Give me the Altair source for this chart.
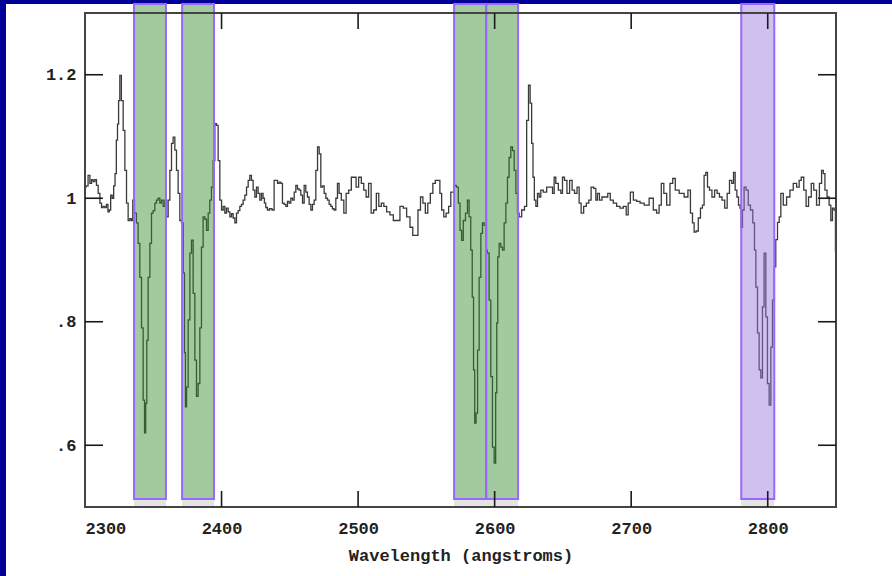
import altair as alt
import pandas as pd

# Normalised flux spectrum (wavelength in angstroms)
wavelength = [
    2300.0, 2301.5, 2303.0, 2304.2, 2305.4, 2306.6, 2307.8, 2309.0, 2310.3, 2311.5,
    2312.7, 2313.9, 2315.1, 2316.3, 2317.3, 2318.3, 2319.3, 2320.5, 2321.5, 2322.5,
    2323.4, 2324.2, 2325.0, 2326.0, 2327.3, 2328.6, 2329.8, 2331.0, 2332.2, 2333.4,
    2334.5, 2335.5, 2337.0, 2338.3, 2339.5, 2340.8, 2342.0, 2343.2, 2344.0, 2344.9,
    2345.6, 2346.9, 2348.1, 2349.3, 2350.5, 2351.8, 2352.9, 2354.2, 2355.4, 2356.6,
    2357.9, 2359.1, 2360.3, 2361.5, 2362.8, 2363.9, 2365.2, 2366.4, 2367.6, 2368.8,
    2370.1, 2371.3, 2372.5, 2373.2, 2373.9, 2374.9, 2376.2, 2377.4, 2378.6, 2379.8,
    2381.1, 2382.2, 2383.5, 2384.7, 2385.9, 2387.1, 2388.4, 2389.6, 2390.8, 2392.0,
    2393.2, 2394.5, 2395.7, 2396.9, 2398.1, 2399.4, 2400.6, 2401.8, 2403.0, 2404.2,
    2405.5, 2406.7, 2407.9, 2409.1, 2410.4, 2411.5, 2412.8, 2414.0, 2415.2, 2416.4,
    2417.7, 2418.9, 2420.1, 2421.3, 2422.5, 2423.8, 2425.0, 2426.2, 2427.4, 2428.7,
    2429.8, 2431.0, 2431.8, 2433.0, 2434.2, 2436.0, 2437.9, 2439.1, 2440.4, 2441.6,
    2442.8, 2444.0, 2445.2, 2446.5, 2447.7, 2448.9, 2450.1, 2451.4, 2452.6, 2453.8,
    2455.0, 2456.2, 2457.4, 2458.7, 2459.9, 2461.1, 2462.3, 2463.5, 2464.8, 2466.0,
    2467.2, 2468.4, 2469.7, 2470.9, 2472.1, 2473.3, 2474.5, 2475.8, 2477.0, 2478.2,
    2479.4, 2480.6, 2481.8, 2483.1, 2484.3, 2485.5, 2486.7, 2488.7, 2490.4, 2492.1,
    2494.1, 2496.0, 2497.7, 2499.4, 2501.4, 2503.3, 2505.0, 2506.7, 2508.7, 2510.4,
    2512.4, 2514.3, 2516.0, 2518.0, 2519.7, 2522.1, 2524.6, 2527.0, 2529.4, 2531.9,
    2534.3, 2536.8, 2539.2, 2540.9, 2542.9, 2544.8, 2546.6, 2548.3, 2550.2, 2551.9,
    2553.9, 2555.6, 2557.5, 2559.3, 2560.5, 2561.9, 2563.6, 2565.3, 2567.3, 2568.5,
    2569.7, 2571.0, 2572.9, 2573.9, 2575.4, 2576.3, 2577.8, 2579.5, 2580.7, 2581.9,
    2583.1, 2584.1, 2585.0, 2585.8, 2587.0, 2588.0, 2589.3, 2590.5, 2591.7, 2592.9,
    2594.1, 2595.3, 2596.6, 2597.8, 2599.0, 2600.3, 2601.2, 2601.9, 2602.7, 2603.9,
    2605.2, 2606.3, 2607.6, 2608.8, 2610.0, 2611.2, 2612.5, 2613.7, 2614.9, 2616.2,
    2617.3, 2618.6, 2621.0, 2622.7, 2624.2, 2625.4, 2626.6, 2627.6, 2628.6, 2629.6,
    2630.8, 2632.0, 2633.2, 2634.4, 2636.9, 2639.3, 2641.8, 2643.0, 2644.2, 2645.4,
    2647.9, 2649.1, 2650.3, 2652.0, 2653.9, 2655.9, 2657.6, 2659.4, 2661.3, 2662.5,
    2664.2, 2666.2, 2668.1, 2669.8, 2671.5, 2673.5, 2674.7, 2675.9, 2677.6, 2679.6,
    2682.0, 2683.7, 2685.7, 2688.1, 2690.6, 2693.0, 2695.5, 2697.2, 2698.4, 2700.4,
    2702.8, 2705.3, 2707.7, 2711.3, 2715.0, 2717.4, 2719.8, 2721.1, 2723.0, 2724.8,
    2727.2, 2729.6, 2731.3, 2733.3, 2737.0, 2740.6, 2742.5, 2744.3, 2745.5, 2746.7,
    2748.4, 2749.9, 2751.6, 2752.8, 2754.0, 2755.3, 2756.5, 2758.2, 2760.1, 2762.1,
    2763.8, 2765.5, 2767.5, 2769.5, 2771.1, 2772.9, 2774.4, 2775.5, 2776.8, 2778.0,
    2779.2, 2780.2, 2780.9, 2782.1, 2783.3, 2785.0, 2786.5, 2788.2, 2789.9, 2790.7,
    2791.9, 2793.1, 2794.3, 2795.6, 2796.7, 2798.0, 2799.2, 2800.4, 2801.7, 2802.9,
    2804.1, 2805.3, 2806.5, 2807.8, 2809.0, 2810.2, 2812.6, 2815.0, 2817.5, 2819.9,
    2822.4, 2823.6, 2825.5, 2827.3, 2828.9, 2830.9, 2832.9, 2834.5, 2837.0, 2838.7,
    2840.2, 2841.2, 2842.6, 2844.3, 2845.6, 2846.8, 2848.0, 2849.2, 2850.0,
]
flux = [
    1.018, 1.020, 1.037, 1.024, 1.030, 1.027, 1.030, 1.021, 1.008, 0.992,
    0.985, 0.987, 0.985, 0.990, 0.978, 0.981, 1.005, 1.000, 1.020, 1.040,
    1.094, 1.120, 1.158, 1.199, 1.158, 1.110, 1.045, 0.992, 0.964, 0.967,
    0.964, 0.997, 0.976, 0.960, 0.927, 0.872, 0.790, 0.673, 0.620, 0.668,
    0.770, 0.872, 0.927, 0.976, 0.980, 0.992, 0.997, 1.000, 0.992, 0.997,
    0.987, 0.997, 0.970, 0.997, 1.045, 1.089, 1.099, 1.078, 1.045, 1.008,
    0.964, 0.960, 0.879, 0.750, 0.662, 0.694, 0.803, 0.911, 0.932, 0.846,
    0.738, 0.679, 0.700, 0.790, 0.921, 0.970, 0.966, 0.948, 0.976, 0.997,
    1.018, 1.061, 1.121, 1.118, 1.061, 0.997, 0.981, 0.987, 0.976, 0.984,
    0.978, 0.970, 0.975, 0.968, 0.960, 0.976, 0.980, 0.987, 0.990, 0.997,
    1.005, 1.018, 1.029, 1.037, 1.029, 1.013, 1.002, 1.018, 1.008, 0.997,
    1.008, 1.000, 0.992, 0.985, 0.981, 0.983, 0.981, 1.029, 1.029, 1.024,
    1.026, 1.024, 0.992, 0.990, 0.987, 0.995, 0.992, 1.000, 0.997, 1.010,
    1.021, 1.015, 1.013, 1.005, 0.992, 1.021, 1.010, 1.002, 0.990, 0.981,
    0.990, 0.997, 1.045, 1.083, 1.072, 1.018, 1.020, 1.008, 1.000, 0.997,
    0.990, 0.987, 0.983, 0.981, 1.000, 1.024, 1.008, 0.997, 0.976, 1.008,
    1.013, 1.034, 1.034, 1.018, 1.034, 1.024, 1.013, 1.002, 1.024, 0.976,
    0.981, 1.008, 0.987, 0.992, 0.987, 0.978, 0.973, 0.964, 0.964, 0.987,
    0.984, 0.970, 0.953, 0.940, 0.940, 0.981, 1.002, 0.992, 0.976, 0.992,
    1.008, 1.024, 1.029, 1.029, 1.008, 0.981, 0.970, 0.976, 0.987, 1.010,
    1.010, 1.021, 1.018, 0.992, 0.948, 0.932, 0.964, 0.976, 0.997, 0.970,
    0.916, 0.840, 0.722, 0.636, 0.652, 0.754, 0.872, 0.943, 0.960, 0.956,
    0.916, 0.911, 0.835, 0.711, 0.597, 0.571, 0.685, 0.798, 0.905, 0.927,
    0.921, 0.916, 0.960, 0.992, 1.034, 1.066, 1.083, 1.077, 1.045, 1.008,
    0.976, 0.970, 0.981, 0.987, 1.126, 1.183, 1.154, 1.089, 1.034, 0.997,
    0.987, 1.008, 1.002, 1.013, 1.010, 1.018, 1.018, 1.008, 1.034, 1.024,
    1.013, 1.008, 1.034, 1.029, 1.008, 1.029, 1.013, 1.008, 1.018, 0.992,
    0.976, 0.987, 0.992, 0.997, 1.018, 1.016, 0.997, 1.008, 0.997, 1.002,
    1.002, 1.008, 0.997, 0.992, 0.987, 0.984, 0.987, 0.973, 0.992, 1.010,
    0.997, 0.995, 0.992, 0.989, 1.000, 0.981, 0.976, 0.989, 1.024, 1.008,
    0.989, 1.024, 1.032, 1.013, 1.008, 1.002, 1.013, 0.976, 0.960, 0.945,
    0.947, 0.968, 0.984, 0.989, 1.037, 1.042, 1.018, 1.013, 1.002, 1.013,
    1.008, 1.002, 0.997, 0.984, 1.008, 1.029, 1.024, 1.042, 1.013, 1.002,
    0.989, 0.984, 0.953, 0.981, 1.018, 1.013, 0.989, 0.981, 0.960, 0.916,
    0.856, 0.782, 0.722, 0.709, 0.824, 0.911, 0.808, 0.700, 0.665, 0.759,
    0.835, 0.889, 0.933, 0.961, 0.970, 1.008, 0.989, 1.002, 1.013, 1.024,
    1.018, 1.029, 1.034, 1.013, 0.987, 1.002, 1.024, 1.013, 0.989, 1.024,
    1.045, 1.040, 1.013, 1.002, 0.989, 0.964, 0.984, 0.981, 0.915,
]

# Absorption-line windows
band_start = [2335.9, 2371.1, 2570.3, 2593.8, 2780.6]
band_end = [2359.3, 2394.5, 2593.8, 2617.2, 2804.8]
band_kind = ["Fe II", "Fe II", "Fe II", "Fe II", "Mg II"]

x_ticks = [2300, 2400, 2500, 2600, 2700, 2800]
y_ticks = [0.6, 0.8, 1.0, 1.2]

W, H = 751, 494
FONT = "Liberation Mono"

spec = pd.DataFrame({"wavelength": wavelength, "flux": flux})
bands = pd.DataFrame({"start": band_start, "end": band_end, "kind": band_kind})
xt = pd.DataFrame({"t": x_ticks[1:]})
yt = pd.DataFrame({"t": y_ticks})
one = pd.DataFrame({"k": [0]})

x_scale = alt.Scale(domain=[2300, 2850], nice=False, zero=False)
y_scale = alt.Scale(domain=[0.5, 1.3], nice=False, zero=False)

# white panel behind everything
panel = alt.Chart(one).mark_rect(color="white").encode(
    x=alt.value(-79), x2=alt.value(W + 56), y=alt.value(-9), y2=alt.value(H + 69)
)

line = alt.Chart(spec).mark_line(
    interpolate="step", color="#3a3a3a", strokeWidth=1.3
).encode(
    x=alt.X("wavelength:Q", scale=x_scale,
            axis=alt.Axis(values=x_ticks, format="d", ticks=False, tickSize=0, domain=False,
                          grid=False, zindex=2,
                          labelFont=FONT, labelFontSize=17, labelFontWeight="bold",
                          labelColor="#222", labelPadding=13,
                          title="Wavelength (angstroms)", titleFont=FONT, titleFontSize=17,
                          titleFontWeight="bold", titleColor="#222", titlePadding=11)),
    y=alt.Y("flux:Q", scale=y_scale,
            axis=alt.Axis(values=y_ticks, ticks=False, tickSize=0, domain=False, grid=False,
                          zindex=2,
                          labelExpr="datum.value < 1 ? substring(format(datum.value, '.1f'), 1) : format(datum.value, '.1~f')",
                          labelFont=FONT, labelFontSize=17, labelFontWeight="bold",
                          labelColor="#222", labelPadding=9, title=None)),
)

shadow = alt.Chart(bands).mark_rect(color="#e4e4e4").encode(
    x=alt.X("start:Q", scale=x_scale), x2="end:Q",
    y=alt.value(H - 8), y2=alt.value(H - 1),
)

boxes = alt.Chart(bands).mark_rect(
    fillOpacity=0.45, stroke="#9a66ff", strokeWidth=2
).encode(
    x=alt.X("start:Q", scale=x_scale), x2="end:Q",
    y=alt.value(-9), y2=alt.value(H - 8),
    fill=alt.Fill("kind:N", scale=alt.Scale(domain=["Fe II", "Mg II"],
                                            range=["#2e8a2a", "#9774de"]), legend=None),
)

# plot frame
frame = alt.Chart(one).mark_rect(
    fillOpacity=0, stroke="#444444", strokeWidth=2
).encode(x=alt.value(0), x2=alt.value(W), y=alt.value(0), y2=alt.value(H))

tick_style = dict(color="#1a1a1a", strokeWidth=1.6)
x_bottom = alt.Chart(xt).mark_rule(**tick_style).encode(
    x=alt.X("t:Q", scale=x_scale), y=alt.value(H - 16), y2=alt.value(H))
x_top = alt.Chart(xt).mark_rule(**tick_style).encode(
    x=alt.X("t:Q", scale=x_scale), y=alt.value(0), y2=alt.value(16))
y_left = alt.Chart(yt).mark_rule(**tick_style).encode(
    y=alt.Y("t:Q", scale=y_scale), x=alt.value(0), x2=alt.value(18))
y_right = alt.Chart(yt).mark_rule(**tick_style).encode(
    y=alt.Y("t:Q", scale=y_scale), x=alt.value(W - 18), x2=alt.value(W))

chart = alt.layer(
    panel, line, shadow, boxes, frame, x_bottom, x_top, y_left, y_right
).properties(
    width=W, height=H,
    autosize=alt.AutoSizeParams(type="none"),
    padding={"left": 85, "top": 13, "right": 56, "bottom": 69},
    background="#000096",
).configure_view(
    stroke=None, fill="white"
)

chart.save("out.html", embed_options={"renderer": "svg", "actions": False})
